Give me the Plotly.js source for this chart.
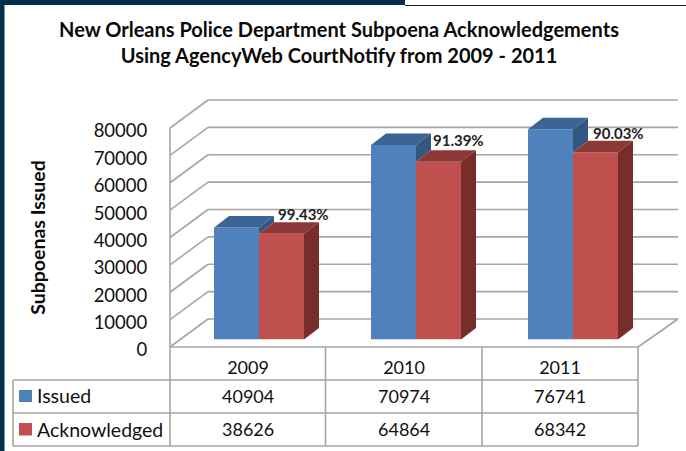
<!DOCTYPE html>
<html>
<head>
<meta charset="utf-8">
<script src="https://cdn.plot.ly/plotly-3.0.1.min.js"></script>
<style>html,body{margin:0;padding:0;background:#fff}#chart{width:686px;height:451px}</style>
</head>
<body>
<div id="chart"></div>
<script>
var years = [2009, 2010, 2011];
var issued = [40904, 70974, 76741];
var acknowledged = [38626, 64864, 68342];
var percentLabels = ['99.43%', '91.39%', '90.03%'];
var yTicks = [0, 10000, 20000, 30000, 40000, 50000, 60000, 70000, 80000];
var seriesNames = ['Issued', 'Acknowledged'];
var colBlue = '#4F81BD', colRed = '#C0504D';
var blueTop = '#3C6595', blueSide = '#345780', redTop = '#8C3836', redSide = '#772E2B';
var gridCol = '#A6A6A6', textCol = '#111111', frameCol = '#00304C';
var W = 686, H = 451, FONT = 'Lato, Carlito, sans-serif';

function px(x) { return x / W; }
function py(y) { return 1 - y / H; }

var barPlane = {left: 180.5, right: 651.5, base: 339.5, pxPer: 27.4 / 10000, top: 97};
var yRangeTop = (barPlane.base - barPlane.top) / barPlane.pxPer;
var pxPerYear = (barPlane.right - barPlane.left) / 3;
var barW = 45 / pxPerYear, depthX = 15 / pxPerYear, depthY = 11.5 / barPlane.pxPer;

var traces = [];
traces.push({type: 'bar', x: years, y: issued, name: seriesNames[0], marker: {color: colBlue, line: {width: 0}}, hoverinfo: 'x+y+name'});
traces.push({type: 'bar', x: years, y: acknowledged, name: seriesNames[1], marker: {color: colRed, line: {width: 0}}, hoverinfo: 'x+y+name'});

function face(xs, ys, color) {
  traces.push({type: 'scatter', mode: 'lines', x: xs, y: ys, fill: 'toself', fillcolor: color,
    line: {width: 0, color: color}, hoverinfo: 'skip', showlegend: false});
}
years.forEach(function (yr, i) {
  var a = issued[i], b = acknowledged[i];
  var x0 = yr - barW, xm = yr, x1 = yr + barW;
  face([x0, xm, xm + depthX, x0 + depthX, x0], [a, a, a + depthY, a + depthY, a], blueTop);
  face([xm, xm + depthX, xm + depthX, xm, xm], [a, a + depthY, b + depthY, b, a], blueSide);
  face([xm, x1, x1 + depthX, xm + depthX, xm], [b, b, b + depthY, b + depthY, b], redTop);
  face([x1, x1 + depthX, x1 + depthX, x1, x1], [b, b + depthY, depthY, 0, b], redSide);
});
// invisible trace so the front-plane axes are always drawn
traces.push({type: 'scatter', mode: 'none', x: years, y: issued, xaxis: 'x2', yaxis: 'y2', hoverinfo: 'skip', showlegend: false});

var front = {left: 170, right: 638, bottom: 347, top: 128, dx: 38, dy: 28, backRight: 678};
function frontY(v) { return front.bottom - v * (front.bottom - front.top) / 80000; }

var shapes = [];
function line(x0, y0, x1, y1, color, w) {
  shapes.push({type: 'line', xref: 'paper', yref: 'paper', x0: px(x0), y0: py(y0), x1: px(x1), y1: py(y1),
    line: {color: color || gridCol, width: w || 1.6}, layer: 'below'});
}
function rect(x0, y0, x1, y1, color) {
  shapes.push({type: 'rect', xref: 'paper', yref: 'paper', x0: px(x0), y0: py(y0), x1: px(x1), y1: py(y1),
    fillcolor: color, line: {width: 0}, layer: 'below'});
}
// page frame
rect(0, 0, 4.5, H, frameCol);
rect(0, 0, 405, 5, frameCol);
line(405, 5.5, W, 5.5, '#0B2230', 1.2);
// walls
yTicks.forEach(function (v) {
  var y = frontY(v);
  line(front.left, y, front.left + front.dx, y - front.dy);
  line(front.left + front.dx, y - front.dy, front.backRight, y - front.dy);
});
line(front.left, frontY(80000), front.left, front.bottom);
line(front.right, front.bottom, front.backRight, front.bottom - front.dy);
// data table grid
var tableX = [13, 170, 325.5, 482, 638], tableY = [347, 380, 413, 446];
line(tableX[1], tableY[0], tableX[4], tableY[0]);
line(tableX[0], tableY[1], tableX[4], tableY[1]);
line(tableX[0], tableY[2], tableX[4], tableY[2]);
line(tableX[0], tableY[3], tableX[4], tableY[3]);
line(tableX[0], tableY[1], tableX[0], tableY[3]);
[1, 2, 3, 4].forEach(function (k) { line(tableX[k], tableY[0], tableX[k], tableY[3]); });
// legend keys
rect(19, 390, 32, 402, colBlue);
rect(19, 423, 32, 435.5, colRed);

var annotations = [];
function cellText(text, x, xref, yPx, xanchor, extra) {
  annotations.push({text: text, x: x, xref: xref, y: py(yPx), yref: 'paper', xanchor: xanchor, yanchor: 'middle',
    showarrow: false, font: Object.assign({family: FONT, size: 18, color: textCol}, extra || {})});
}
var labelLiftY = [7200, 7860, 6930], labelShiftX = [-1, -3, 0];
years.forEach(function (yr, i) {
  cellText(String(issued[i]), yr, 'x2', 396, 'center');
  cellText(String(acknowledged[i]), yr, 'x2', 429, 'center');
  annotations.push({text: '<b>' + percentLabels[i] + '</b>', x: yr + barW + labelShiftX[i] / pxPerYear, xref: 'x',
    y: acknowledged[i] + labelLiftY[i], yref: 'y', xanchor: 'center', yanchor: 'middle', showarrow: false,
    font: {family: FONT, size: 15, color: '#222222'}});
});
cellText(seriesNames[0], px(35), 'paper', 395, 'left', {size: 19.5});
cellText(seriesNames[1], px(35), 'paper', 429, 'left', {size: 19.5});

var layout = {
  width: W, height: H, autosize: false,
  margin: {l: 0, r: 0, t: 0, b: 0, pad: 0},
  paper_bgcolor: '#ffffff', plot_bgcolor: 'rgba(0,0,0,0)',
  showlegend: false, hovermode: false,
  barmode: 'group', bargap: 1 - 90 / pxPerYear, bargroupgap: 0,
  title: {
    text: '<b>New Orleans Police Department Subpoena Acknowledgements<br>Using AgencyWeb CourtNotify from 2009 - 2011</b>',
    font: {family: FONT, size: 20, color: '#0A0A0A'},
    x: 339 / W, xanchor: 'center', y: py(37), yanchor: 'middle', xref: 'paper', yref: 'paper'
  },
  xaxis: {domain: [px(barPlane.left), px(barPlane.right)], range: [years[0] - 0.5, years[2] + 0.5], type: 'linear',
    showgrid: false, zeroline: false, showline: false, ticks: '', showticklabels: false, anchor: 'y'},
  yaxis: {domain: [py(barPlane.base), py(barPlane.top)], range: [0, yRangeTop], showgrid: false, zeroline: false, showline: false,
    ticks: '', showticklabels: false, anchor: 'x'},
  xaxis2: {domain: [px(170), px(638)], range: [years[0] - 0.5, years[2] + 0.5], type: 'linear',
    anchor: 'free', position: py(347), side: 'bottom', tickmode: 'array', tickvals: years, ticktext: years.map(String),
    showgrid: false, zeroline: false, showline: false, ticks: 'outside', ticklen: 4, tickcolor: 'rgba(0,0,0,0)',
    tickfont: {family: FONT, size: 18, color: textCol}},
  yaxis2: {domain: [py(347), py(128)], range: [0, 80000], anchor: 'free', position: px(170), side: 'left',
    tickmode: 'array', tickvals: yTicks, ticktext: yTicks.map(String), ticklabelshift: 3,
    showgrid: false, zeroline: false, showline: false, ticks: 'outside', ticklen: 19, tickcolor: 'rgba(0,0,0,0)',
    tickfont: {family: FONT, size: 18.5, color: textCol},
    title: {text: '<b>Subpoenas Issued</b>', font: {family: FONT, size: 19.5, color: '#0A0A0A'}, standoff: 41}},
  shapes: shapes,
  annotations: annotations
};
Plotly.newPlot('chart', traces, layout, {displayModeBar: false, responsive: false});
</script>
</body>
</html>
